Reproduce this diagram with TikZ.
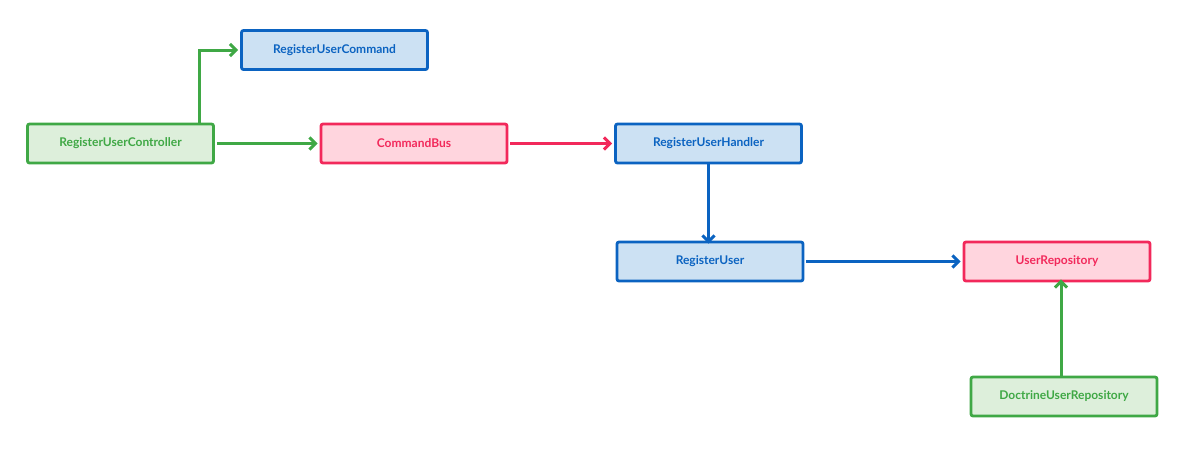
\documentclass[tikz,border=0pt]{standalone}
\usepackage{fontspec}
\setmainfont{Lato}
\usetikzlibrary{arrows.meta}
\definecolor{grn}{HTML}{3FA845}
\definecolor{grnfill}{HTML}{DDEFDB}
\definecolor{blu}{HTML}{0B63C1}
\definecolor{blufill}{HTML}{CCE1F3}
\definecolor{rd}{HTML}{F2295B}
\definecolor{rdfill}{HTML}{FFD5DE}
\begin{document}
\begin{tikzpicture}[x=1pt, y=-1pt,
  box/.style = {draw, line width=2.8pt, rounded corners=2pt, minimum width=186pt, minimum height=39pt, inner sep=0pt, font=\bfseries\fontsize{12}{14}\selectfont},
  controller/.style = {box, draw=grn, fill=grnfill, text=grn},
  port/.style = {box, draw=rd, fill=rdfill, text=rd},
  usecase/.style = {box, draw=blu, fill=blufill, text=blu},
  link/.style = {line width=3pt, -{Straight Barb[length=6pt, width=12pt, line width=3pt]}}]
  \useasboundingbox (0,0) rectangle (1200,459);
  \node[usecase] (cmd) at (334.5,50) {RegisterUserCommand};
  \node[controller] (ctrl) at (120.5,143.5) {RegisterUserController};
  \node[port] (bus) at (414,143.5) {CommandBus};
  \node[usecase] (handler) at (708.5,143.5) {RegisterUserHandler};
  \node[usecase] (reg) at (710,261.5) {RegisterUser};
  \node[port] (repo) at (1057,261.5) {UserRepository};
  \node[controller] (doctrine) at (1064,396.5) {DoctrineUserRepository};
  % connectors
  \draw[link, grn] (ctrl.north -| 199,0) |- ([xshift=-2pt]cmd.west);
  \draw[link, grn] ([xshift=2pt]ctrl.east) -- ([xshift=-2pt]bus.west);
  \draw[link, rd] ([xshift=2pt]bus.east) -- ([xshift=-2pt]handler.west);
  \draw[link, blu] (handler.south) -- ([yshift=-3pt]reg.north -| handler.south);
  \draw[link, blu] ([xshift=2pt]reg.east) -- ([xshift=-2pt]repo.west);
  \draw[link, grn] ([yshift=-2pt]doctrine.north -| 1061,0) -- ([yshift=3pt]repo.south -| 1061,0);
\end{tikzpicture}
\end{document}
